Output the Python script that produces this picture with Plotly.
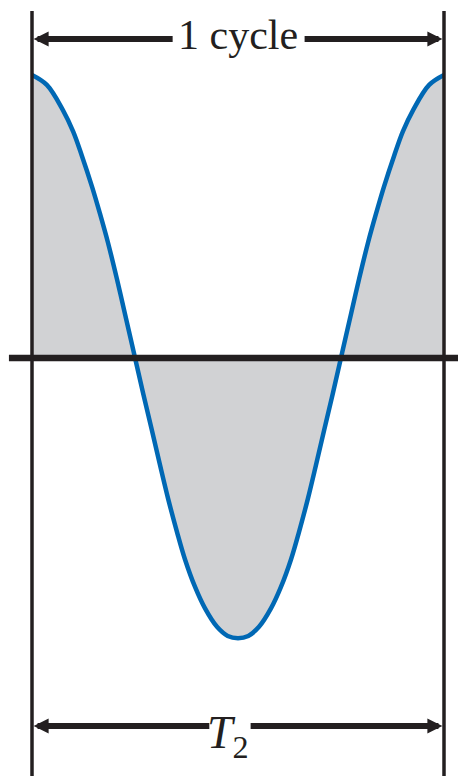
import plotly.graph_objects as go

# one cycle of the waveform (x = fraction of cycle, y = relative amplitude)
cycle_x = [0.000, 0.036, 0.075, 0.100, 0.121, 0.146, 0.165, 0.184, 0.206, 0.225, 0.247,
           0.269, 0.291, 0.311, 0.330, 0.352, 0.371, 0.396, 0.420, 0.449, 0.475, 0.500,
           0.525, 0.551, 0.580, 0.604, 0.629, 0.648, 0.670, 0.689, 0.709, 0.731,
           0.753, 0.775, 0.794, 0.816, 0.835, 0.854, 0.879, 0.900, 0.925, 0.964, 1.000]
wave_y = [1.000, 0.965, 0.876, 0.800, 0.715, 0.604, 0.510, 0.410, 0.280, 0.160, 0.020,
          -0.120, -0.255, -0.380, -0.495, -0.615, -0.710, -0.810, -0.885, -0.950, -0.982, -0.990,
          -0.982, -0.950, -0.885, -0.810, -0.710, -0.615, -0.495, -0.380, -0.255, -0.120,
          0.020, 0.160, 0.280, 0.410, 0.510, 0.604, 0.715, 0.800, 0.876, 0.965, 1.000]

top_label = "1 cycle"
bottom_label = "<i>T</i><sub>2</sub>"

ink = "#231f20"
blue = "#0068b4"
grey = "#d1d2d4"

fig = go.Figure()
fig.add_trace(go.Scatter(x=cycle_x, y=wave_y, mode="lines",
                         line=dict(color=blue, width=4.5, shape="spline", smoothing=1),
                         fill="tozeroy", fillcolor=grey, hoverinfo="skip"))

# frame lines
shapes = [
    dict(type="line", xref="x", yref="y", x0=-0.056, x1=1.07, y0=0, y1=0,
         line=dict(color=ink, width=6.5)),
    dict(type="line", xref="x", yref="y", x0=0, x1=0, y0=1.226, y1=-1.5,
         line=dict(color=ink, width=3.5)),
    dict(type="line", xref="x", yref="y", x0=1, x1=1, y0=1.226, y1=-1.5,
         line=dict(color=ink, width=3.5)),
]

def arrow(x_tail, x_head, y):
    return dict(x=x_head, y=y, ax=x_tail, ay=y, xref="x", yref="y", axref="x", ayref="y",
                text="", showarrow=True, arrowhead=2, arrowsize=0.5, arrowwidth=6,
                arrowcolor=ink, standoff=0, startstandoff=0)

y_top = 1.127
y_bot = -1.30
annotations = [
    arrow(0.345, 0.004, y_top), arrow(0.658, 0.996, y_top),
    arrow(0.434, 0.004, y_bot), arrow(0.527, 0.996, y_bot),
    dict(x=0.5, y=y_top, xref="x", yref="y", text=top_label, showarrow=False,
         font=dict(family="Liberation Serif", size=42, color=ink), yshift=4),
    dict(x=0.476, y=y_bot, xref="x", yref="y", text=bottom_label, showarrow=False,
         font=dict(family="Liberation Serif", size=46, color=ink), yshift=-10),
]

# page body has an 8px margin, so the figure is 8px smaller and the ranges are shifted
fig.update_layout(width=458, height=768, margin=dict(l=0, r=0, t=0, b=0),
                  paper_bgcolor="white", plot_bgcolor="white", showlegend=False,
                  shapes=shapes, annotations=annotations)
fig.update_xaxes(range=[-24 / 412, 434 / 412], visible=False)
fig.update_yaxes(range=[-418 / 283, 350 / 283], visible=False)

fig.write_html("out.html")
